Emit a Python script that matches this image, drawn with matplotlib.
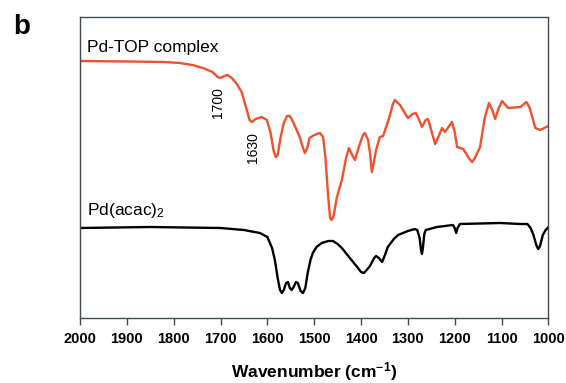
import numpy as np
import matplotlib
matplotlib.use("Agg")
import matplotlib.pyplot as plt

plt.rcParams['font.family'] = ['Liberation Sans', 'DejaVu Sans']
plt.rcParams['mathtext.fontset'] = 'custom'
plt.rcParams['mathtext.rm'] = 'Liberation Sans'
plt.rcParams['mathtext.bf'] = 'Liberation Sans:bold'
plt.rcParams['mathtext.default'] = 'regular'

# Pd-TOP complex spectrum (wavenumber, transmittance a.u.)
wn_top = [2000, 1894, 1820, 1787, 1760, 1738, 1717, 1706, 1700, 1692, 1685,
          1676, 1665, 1655, 1645, 1638, 1633, 1625, 1612, 1601, 1593, 1587,
          1582, 1578, 1572, 1565, 1558, 1552, 1545, 1531, 1524, 1520, 1515,
          1510, 1500, 1488, 1481, 1476, 1470, 1466, 1463, 1459, 1452, 1441,
          1432, 1426, 1418, 1413, 1404, 1396, 1392, 1385, 1381, 1377, 1373,
          1368, 1360, 1353, 1340, 1332, 1328, 1317, 1300, 1290, 1283, 1276,
          1270, 1262, 1257, 1248, 1242, 1236, 1227, 1221, 1212, 1206, 1200,
          1195, 1182, 1170, 1163, 1157, 1146, 1136, 1127, 1120, 1114, 1106,
          1099, 1086, 1060, 1047, 1040, 1028, 1018, 1000]
t_top = [257, 256.5, 256, 255, 253, 250, 246, 241, 240, 242, 243,
         240, 234, 226, 210, 198, 196, 199, 201, 198, 185, 168,
         161, 163, 180, 195, 202, 202, 196, 181, 170, 165, 170,
         180, 183, 185, 181, 160, 120, 100, 98, 101, 120, 138,
         160, 170, 162, 158, 172, 183, 185, 178, 165, 146, 155,
         168, 181, 182, 200, 214, 218, 213, 200, 204, 205, 198,
         191, 198, 199, 184, 174, 180, 190, 186, 192, 196, 186,
         171, 169, 160, 156, 160, 171, 200, 215, 208, 199, 210,
         217, 210, 211, 216, 210, 190, 188, 192]

# Pd(acac)2 spectrum
wn_acac = [2000, 1851, 1700, 1650, 1616, 1600, 1590, 1584, 1578, 1573, 1569,
           1565, 1560, 1556, 1552, 1548, 1544, 1539, 1535, 1529, 1524, 1519,
           1514, 1508, 1503, 1495, 1484, 1470, 1460, 1450, 1441, 1424, 1410,
           1400, 1394, 1388, 1381, 1372, 1368, 1362, 1355, 1349, 1343, 1330,
           1321, 1300, 1285, 1280, 1275, 1272, 1270, 1268, 1265, 1262, 1238,
           1204, 1200, 1197, 1194, 1189, 1103, 1060, 1045, 1038, 1032, 1026,
           1022, 1018, 1012, 1006, 1000]
t_acac = [90, 91, 90, 88, 85, 81, 70, 58, 40, 28, 25,
          28, 35, 36, 30, 28, 31, 36, 35, 27, 25, 30,
          45, 58, 65, 71, 75, 77, 77, 74, 70, 60, 52,
          46, 45, 48, 52, 60, 62, 60, 56, 63, 71, 79,
          83, 87, 89, 88, 80, 68, 64, 70, 84, 88, 91,
          93, 90, 85, 90, 94, 95, 94, 94, 90, 83, 73,
          69, 72, 83, 88, 91]

xticks = np.arange(1000, 2001, 100)

fig = plt.figure(figsize=(5.66, 3.83), dpi=100)
ax = fig.add_axes([0.1413, 0.1697, 0.8277, 0.7859])

ax.plot(wn_top, t_top, color='#f0502d', lw=1.7, solid_joinstyle='round')
ax.plot(wn_acac, t_acac, color='black', lw=1.7, solid_joinstyle='round')

ax.set_xlim(2000, 1000)
ax.set_ylim(0, 301)
ax.set_xticks(xticks)
ax.set_xticklabels([str(v) for v in xticks], fontweight='bold', fontsize=10.5)
ax.set_yticks([])
ax.tick_params(axis='x', direction='out', length=5, width=1, color='#404a50', pad=5)
for s in ax.spines.values():
    s.set_color('#404a50')
    s.set_linewidth(1.0)

ax.set_xlabel(r'Wavenumber (cm$^{\mathbf{-1}}$)', fontweight='bold', fontsize=12.5, labelpad=10)

ax.text(1984, 271, 'Pd-TOP complex', fontsize=12.5, ha='left', va='center')
ax.text(1984, 108, 'Pd(acac)$_2$', fontsize=12.5, ha='left', va='center')
ax.text(1706, 215, '1700', fontsize=10, rotation=90, ha='center', va='center')
ax.text(1631, 170, '1630', fontsize=10, rotation=90, ha='center', va='center')

fig.text(0.039, 0.93, 'b', fontsize=20, fontweight='bold', ha='center', va='center')

fig.savefig('out.png', dpi=100)
